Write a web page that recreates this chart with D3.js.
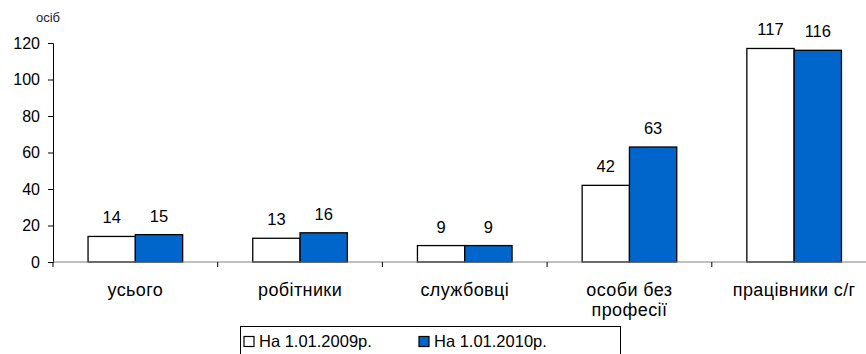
<!DOCTYPE html>
<html>
<head>
<meta charset="utf-8">
<script src="https://cdn.jsdelivr.net/npm/d3@7"></script>
<style>
  html, body { margin: 0; padding: 0; background: #fff; }
  svg { display: block; font-family: "Liberation Sans", Arial, sans-serif; }
</style>
</head>
<body>
<svg id="chart" width="866" height="354"></svg>
<script>
// Чисельність за категоріями, осіб
const categories = [["усього"], ["робітники"], ["службовці"], ["особи без", "професії"], ["працівники с/г"]];
const seriesNames = ["На 1.01.2009р.", "На 1.01.2010р."];
const values2009 = [14, 13, 9, 42, 117];
const values2010 = [15, 16, 9, 63, 116];
const yTicks = [0, 20, 40, 60, 80, 100, 120];
const colors = ["#ffffff", "#0066cc"];

const svg = d3.select("#chart");
const plot = { left: 53, right: 876.5, top: 43, bottom: 262 };

const x0 = d3.scaleBand().domain(d3.range(categories.length)).range([plot.left, plot.right]).padding(0);
const y = d3.scaleLinear().domain([0, 120]).range([plot.bottom, plot.top]);
const groupHalf = 47.3;
const x1 = d3.scaleBand().domain(d3.range(seriesNames.length)).range([-groupHalf, groupHalf]).padding(0);

// Y axis
const yAxis = svg.append("g").attr("transform", `translate(${plot.left},0)`)
  .call(d3.axisLeft(y).tickValues(yTicks).tickSize(5).tickPadding(8));
yAxis.select(".domain").attr("stroke", "#000");
yAxis.selectAll(".tick line").attr("stroke", "#000");
yAxis.selectAll(".tick text").attr("font-size", 16).attr("fill", "#000")
  .attr("font-family", "Liberation Sans, Arial, sans-serif");

// Bars
const series = [values2009, values2010];
series.forEach((vals, s) => {
  svg.append("g").selectAll("rect").data(vals).join("rect")
    .attr("x", (d, i) => x0(i) + x0.bandwidth() / 2 + x1(s))
    .attr("y", d => y(d))
    .attr("width", x1.bandwidth())
    .attr("height", d => plot.bottom - y(d))
    .attr("fill", colors[s])
    .attr("stroke", "#000")
    .attr("stroke-width", 1.3);
  svg.append("g").selectAll("text").data(vals).join("text")
    .attr("x", (d, i) => x0(i) + x0.bandwidth() / 2 + x1(s) + x1.bandwidth() / 2)
    .attr("y", d => y(d) - 13)
    .attr("text-anchor", "middle")
    .attr("font-size", 16.5)
    .attr("fill", "#000")
    .text(d => d);
});

// Category axis
const xAxis = svg.append("g").attr("transform", `translate(0,${plot.bottom})`);
xAxis.append("line").attr("x1", plot.left).attr("x2", plot.right).attr("y1", 0).attr("y2", 0)
  .attr("stroke", "#808080").attr("stroke-width", 1);
const bounds = d3.range(categories.length + 1).map(i => plot.left + i * x0.bandwidth());
xAxis.selectAll("line.tick").data(bounds).join("line").attr("class", "tick")
  .attr("x1", d => d).attr("x2", d => d).attr("y1", 0).attr("y2", 5)
  .attr("stroke", "#000");
categories.forEach((lines, i) => {
  const t = svg.append("text")
    .attr("x", x0(i) + x0.bandwidth() / 2)
    .attr("y", 296)
    .attr("text-anchor", "middle")
    .attr("font-size", 18)
    .attr("letter-spacing", 0.4)
    .attr("fill", "#000");
  lines.forEach((ln, k) => t.append("tspan")
    .attr("x", x0(i) + x0.bandwidth() / 2)
    .attr("dy", k === 0 ? 0 : 20)
    .text(ln));
});

// Axis title
svg.append("text").attr("x", 36).attr("y", 22).attr("font-size", 13)
  .attr("fill", "#1a1a3a").text("осіб");

// Legend
const lg = svg.append("g");
lg.append("rect").attr("x", 240.5).attr("y", 326.5).attr("width", 380).attr("height", 40)
  .attr("fill", "#fff").attr("stroke", "#000");
const legendX = [259, 434];
seriesNames.forEach((name, s) => {
  lg.append("rect").attr("x", legendX[s] - 15).attr("y", 336.5).attr("width", 10).attr("height", 10)
    .attr("fill", colors[s]).attr("stroke", "#000").attr("stroke-width", 1.2);
  lg.append("text").attr("x", legendX[s]).attr("y", 347).attr("font-size", 16.5)
    .attr("fill", "#000").text(name);
});
</script>
</body>
</html>
